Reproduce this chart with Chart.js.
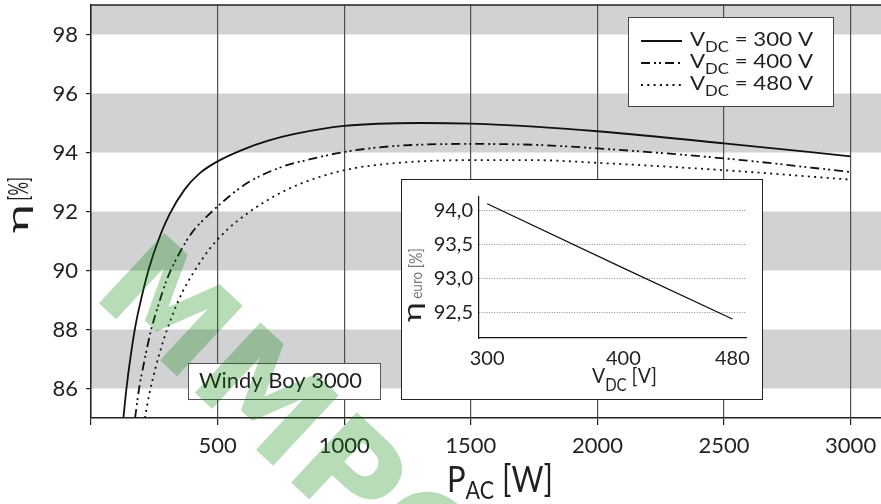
<!DOCTYPE html>
<html>
<head>
<meta charset="utf-8">
<script src="https://cdn.jsdelivr.net/npm/chart.js@4.4.1/dist/chart.umd.min.js"></script>
<style>
  html, body { margin: 0; padding: 0; background: #fff; }
  #wrap { position: relative; width: 881px; height: 504px; }
  #insetBox { position: absolute; left: 401px; top: 179px; width: 362px; height: 221px;
              box-sizing: border-box; border: 1px solid #222; background: #fff; }
  #insetBox canvas { display: block; }
</style>
</head>
<body>
<div id="wrap">
  <canvas id="main" width="881" height="504"></canvas>
  <div id="insetBox"><canvas id="inset" width="360" height="219"></canvas></div>
</div>
<script>
// ---- data ----
const xTicks = [0, 500, 1000, 1500, 2000, 2500, 3000];
const yTicks = [86, 88, 90, 92, 94, 96, 98];
const bandFrom = [86, 90, 94, 98];
const bandTo = [88, 92, 96, 99];

const voltages = [300, 400, 480];

const p300 = [128, 140, 155, 175, 200, 230, 265, 310, 370, 430, 500, 600, 700, 800, 1000, 1300, 1500, 1750, 2000, 2500, 3000];
const eta300 = [85.0, 86.0, 87.0, 88.1, 89.1, 90.1, 91.0, 91.9, 92.75, 93.3, 93.7, 94.1, 94.4, 94.62, 94.9, 95.0, 94.98, 94.88, 94.72, 94.31, 93.87];

const p400 = [174, 190, 210, 235, 265, 300, 350, 400, 460, 530, 620, 750, 880, 1000, 1200, 1500, 1750, 2000, 2500, 3000];
const eta400 = [85.0, 86.0, 86.9, 87.9, 88.8, 89.7, 90.6, 91.3, 91.85, 92.4, 92.98, 93.5, 93.8, 94.02, 94.22, 94.29, 94.26, 94.14, 93.8, 93.34];

const p480 = [213, 230, 255, 285, 320, 360, 410, 470, 540, 620, 720, 830, 1000, 1200, 1500, 1750, 2000, 2500, 3000];
const eta480 = [85.0, 85.8, 86.7, 87.6, 88.45, 89.25, 90.0, 90.75, 91.4, 91.95, 92.5, 92.95, 93.4, 93.64, 93.74, 93.74, 93.65, 93.4, 93.08];

// inset: euro efficiency vs DC voltage
const vdc = [300, 400, 480];
const etaEuro = [94.1, 93.15, 92.4];
const insetXTicks = [300, 400, 480];
const insetYTicks = [92.5, 93.0, 93.5, 94.0];

const FONT = 'Lato, "Noto Sans", sans-serif';
const TEXT = '#231f20';

function pts(xs, ys) {
  return xs.map((x, i) => ({ x: x, y: ys[i] }));
}

// draws text runs (for subscripts); part = [text, size, dy, color, xscale]
function drawRich(ctx, x, y, parts, fitWidth) {
  ctx.save();
  ctx.textAlign = 'left';
  ctx.textBaseline = 'alphabetic';
  let total = 0;
  parts.forEach(p => {
    ctx.font = p[1] + 'px ' + FONT;
    total += ctx.measureText(p[0]).width * (p[4] || 1);
  });
  ctx.translate(x, y);
  if (fitWidth) ctx.scale(fitWidth / total, 1);
  let cx = 0;
  parts.forEach(p => {
    ctx.font = p[1] + 'px ' + FONT;
    ctx.fillStyle = p[3] || TEXT;
    const sx = p[4] || 1;
    ctx.save();
    ctx.translate(cx, p[2]);
    ctx.scale(sx, 1);
    ctx.fillText(p[0], 0, 0);
    ctx.restore();
    cx += ctx.measureText(p[0]).width * sx;
  });
  ctx.restore();
}

const lineStyles = [
  { borderDash: [] },
  { borderDash: [9, 4, 2, 3, 2, 4] },
  { borderDash: [2, 4.3] }
];

const mainDeco = {
  id: 'mainDeco',
  beforeDraw(chart) {
    const { ctx, chartArea: a, scales: { y } } = chart;
    ctx.save();
    ctx.fillStyle = '#d1d2d4';
    bandFrom.forEach((lo, i) => {
      const top = y.getPixelForValue(bandTo[i]);
      const bot = y.getPixelForValue(lo);
      ctx.fillRect(a.left, top, a.right - a.left, bot - top);
    });
    ctx.restore();
  },
  afterDraw(chart) {
    const { ctx, chartArea: a } = chart;
    ctx.save();
    // top frame line
    ctx.strokeStyle = '#222';
    ctx.lineWidth = 1.5;
    ctx.beginPath();
    ctx.moveTo(a.left, a.top);
    ctx.lineTo(a.right, a.top);
    ctx.stroke();

    // legend box
    ctx.fillStyle = '#fff';
    ctx.fillRect(628, 17, 205, 90);
    ctx.strokeStyle = '#444';
    ctx.lineWidth = 1;
    ctx.strokeRect(628.5, 17.5, 205, 89);
    const rowsY = [41, 63, 85];
    chart.data.datasets.forEach((ds, i) => {
      ctx.save();
      ctx.strokeStyle = '#111';
      ctx.lineWidth = 1.8;
      ctx.setLineDash(ds.borderDash || []);
      ctx.beginPath();
      ctx.moveTo(641, rowsY[i]);
      ctx.lineTo(682, rowsY[i]);
      ctx.stroke();
      ctx.restore();
      drawRich(ctx, 690, rowsY[i] + 5, [
        ['V', 20, 0], ['DC', 15, 6], [' = ' + voltages[i] + ' V', 20, 0]
      ], 123);
    });

    // model label box
    ctx.fillStyle = '#fff';
    ctx.fillRect(188, 363, 193, 37);
    ctx.strokeStyle = '#555';
    ctx.strokeRect(188.5, 363.5, 192, 36);
    drawRich(ctx, 199, 388, [['Windy Boy 3000', 21, 0]], 163);

    // axis titles
    drawRich(ctx, 447, 492, [['P', 36, 0], ['AC', 25, 7], [' [W]', 36, 0]], 106);
    ctx.save();
    ctx.translate(28, 233);
    ctx.rotate(-Math.PI / 2);
    drawRich(ctx, 0, 0, [['η', 29, 0, TEXT, 1.7], [' ', 14, 0], ['[%]', 27, 0, TEXT, 0.62]]);
    ctx.restore();

    // watermark
    ctx.save();
    ctx.translate(90, 295);
    ctx.rotate(43 * Math.PI / 180);
    ctx.font = 'bold 132px "DejaVu Sans"';
    ctx.fillStyle = 'rgba(0, 128, 0, 0.28)';
    ctx.fillText('MMPO', 0, 0);
    ctx.restore();
    ctx.restore();
  }
};

new Chart(document.getElementById('main'), {
  type: 'scatter',
  data: {
    datasets: [
      { label: 'VDC = 300 V', data: pts(p300, eta300) },
      { label: 'VDC = 400 V', data: pts(p400, eta400) },
      { label: 'VDC = 480 V', data: pts(p480, eta480) }
    ].map((d, i) => Object.assign(d, {
      showLine: true,
      borderColor: '#111',
      borderWidth: 1.8,
      pointRadius: 0,
      cubicInterpolationMode: 'monotone',
      borderDash: lineStyles[i].borderDash
    }))
  },
  options: {
    responsive: false,
    animation: false,
    devicePixelRatio: 1,
    layout: { padding: { top: 5, right: 0, bottom: 0, left: 0 } },
    plugins: { legend: { display: false }, tooltip: { enabled: false } },
    scales: {
      x: {
        type: 'linear', min: 0, max: 3120,
        afterBuildTicks: s => { s.ticks = xTicks.map(v => ({ value: v })); },
        afterFit: s => { s.height = 86; s.paddingLeft = 0; s.paddingRight = 0; },
        ticks: {
          callback: v => (v === 0 ? '' : String(v)),
          font: { family: FONT, size: 22 }, color: TEXT, padding: 8,
          maxRotation: 0, autoSkip: false
        },
        grid: { color: '#505050', lineWidth: 1.2, tickLength: 7, tickColor: '#222' },
        border: { color: '#222', width: 1.5 }
      },
      y: {
        min: 85, max: 99,
        afterBuildTicks: s => { s.ticks = yTicks.map(v => ({ value: v })); },
        afterFit: s => { s.width = 91; s.paddingTop = 0; s.paddingBottom = 0; },
        ticks: { font: { family: FONT, size: 22 }, color: TEXT, padding: 8 },
        grid: { drawOnChartArea: false, tickLength: 5, color: '#222', lineWidth: 1.2 },
        border: { color: '#222', width: 1.5 }
      }
    }
  },
  plugins: [mainDeco]
});

const insetDeco = {
  id: 'insetDeco',
  afterDraw(chart) {
    const { ctx } = chart;
    drawRich(ctx, 190, 203, [['V', 22, 0], ['DC', 17, 8], [' [V]', 22, 0]], 65);
    ctx.save();
    ctx.translate(20, 142);
    ctx.rotate(-Math.PI / 2);
    drawRich(ctx, 0, 0, [['η', 25, -1, TEXT, 1.6], [' euro ', 16, 0, '#777'], ['[%]', 17, 0, '#777']], 74);
    ctx.restore();
  }
};

new Chart(document.getElementById('inset'), {
  type: 'scatter',
  data: {
    datasets: [{
      label: 'η euro',
      data: pts(vdc, etaEuro),
      showLine: true,
      borderColor: '#111',
      borderWidth: 1.3,
      pointRadius: 0
    }]
  },
  options: {
    responsive: false,
    animation: false,
    devicePixelRatio: 1,
    layout: { padding: { top: 17, right: 16, bottom: 0, left: 0 } },
    plugins: { legend: { display: false }, tooltip: { enabled: false } },
    scales: {
      x: {
        type: 'linear', min: 294, max: 490,
        afterBuildTicks: s => { s.ticks = insetXTicks.map(v => ({ value: v })); },
        afterFit: s => { s.height = 61; s.paddingLeft = 0; s.paddingRight = 0; },
        ticks: { callback: v => String(v), font: { family: FONT, size: 20 }, color: TEXT, padding: 9, maxRotation: 0 },
        grid: { drawOnChartArea: false, drawTicks: false },
        border: { color: '#111', width: 1.2 }
      },
      y: {
        min: 92.12, max: 94.2,
        afterBuildTicks: s => { s.ticks = insetYTicks.map(v => ({ value: v })); },
        afterFit: s => { s.width = 77; s.paddingTop = 0; s.paddingBottom = 0; },
        ticks: { callback: v => v.toFixed(1).replace('.', ','), font: { family: FONT, size: 20 }, color: TEXT, padding: 6 },
        grid: { color: '#8a8a8a', lineWidth: 1, drawTicks: false },
        border: { color: '#111', width: 1.2, dash: [1, 1.5] }
      }
    }
  },
  plugins: [insetDeco]
});
</script>
</body>
</html>
